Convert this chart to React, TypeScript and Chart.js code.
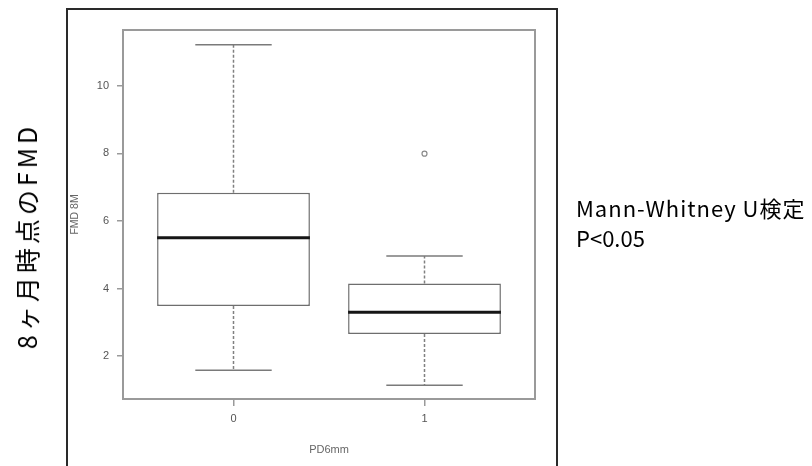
import React, { useEffect, useRef } from "react";
import { Chart, registerables } from "chart.js";

Chart.register(...registerables);

// ---- data ----
const groups = [0, 1];
const groupLabels = ["0", "1"];
const lowerWhisker = [1.58, 1.14];
const q1 = [3.48, 2.65];
const median = [5.5, 3.3];
const q3 = [6.83, 4.15];
const upperWhisker = [11.21, 4.96];
const outlierGroup = [1];
const outlierValue = [7.99];
const yTicks = [2, 4, 6, 8, 10];

const xTitle = "PD6mm";
const yTitle = "FMD 8M";
const sideTitle = "8ヶ月時点のFMD";
const noteLines = ["Mann-Whitney U検定", "P<0.05"];

const BOX_WEX = 0.8;
const STAPLE_WEX = 0.4;

const framePlugin = {
  id: "rframe",
  beforeDatasetsDraw(chart: any) {
    const { ctx, chartArea } = chart;
    ctx.save();
    ctx.strokeStyle = "#9a9a9a";
    ctx.lineWidth = 2;
    ctx.strokeRect(chartArea.left, chartArea.top, chartArea.right - chartArea.left, chartArea.bottom - chartArea.top);
    ctx.restore();
  },
};

export default function App() {
  const ref = useRef<HTMLCanvasElement | null>(null);

  useEffect(() => {
    if (!ref.current) return;
    const seg = (a: number[], b: number[]) => [
      { x: a[0], y: a[1] },
      { x: b[0], y: b[1] },
    ];
    const lineBase = {
      type: "line" as const,
      pointRadius: 0,
      fill: false,
      tension: 0,
      order: 0,
    };
    const datasets: any[] = [];
    groups.forEach((g, i) => {
      datasets.push({
        ...lineBase,
        label: "median" + g,
        data: seg([g - BOX_WEX / 2, median[i]], [g + BOX_WEX / 2, median[i]]),
        borderColor: "#161616",
        borderWidth: 3,
      });
      datasets.push({
        ...lineBase,
        label: "uw" + g,
        data: seg([g, q3[i]], [g, upperWhisker[i]]),
        borderColor: "#808080",
        borderWidth: 1.5,
        borderDash: [3, 2],
        order: 1,
      });
      datasets.push({
        ...lineBase,
        label: "lw" + g,
        data: seg([g, q1[i]], [g, lowerWhisker[i]]),
        borderColor: "#808080",
        borderWidth: 1.5,
        borderDash: [3, 2],
        order: 1,
      });
      datasets.push({
        ...lineBase,
        label: "us" + g,
        data: seg([g - STAPLE_WEX / 2, upperWhisker[i]], [g + STAPLE_WEX / 2, upperWhisker[i]]),
        borderColor: "#7a7a7a",
        borderWidth: 1.5,
      });
      datasets.push({
        ...lineBase,
        label: "ls" + g,
        data: seg([g - STAPLE_WEX / 2, lowerWhisker[i]], [g + STAPLE_WEX / 2, lowerWhisker[i]]),
        borderColor: "#7a7a7a",
        borderWidth: 1.5,
      });
    });
    datasets.push({
      type: "scatter",
      label: "outliers",
      data: outlierGroup.map((g, i) => ({ x: g, y: outlierValue[i] })),
      pointRadius: 2.5,
      pointBorderWidth: 1.2,
      borderColor: "#8a8a8a",
      backgroundColor: "#ffffff",
      pointBackgroundColor: "#ffffff",
      pointBorderColor: "#8a8a8a",
      order: 0,
    });
    datasets.push({
      type: "bar",
      label: "box",
      data: groups.map((g, i) => ({ x: g, y: [q1[i], q3[i]] })),
      backgroundColor: "#ffffff",
      borderColor: "#6e6e6e",
      borderWidth: 1.5,
      borderSkipped: false,
      barPercentage: BOX_WEX,
      categoryPercentage: 1,
      order: 5,
    });

    const tickFont = { family: "'Liberation Sans', Arial, sans-serif", size: 11 };

    const chart = new Chart(ref.current, {
      type: "bar",
      data: { datasets },
      plugins: [framePlugin],
      options: {
        animation: false,
        responsive: false,
        devicePixelRatio: 1,
        layout: { padding: { left: 0, top: 30, right: 277, bottom: 0 } },
        plugins: { legend: { display: false }, tooltip: { enabled: false }, title: { display: false } },
        scales: {
          x: {
            type: "linear",
            min: -0.5785,
            max: 1.5785,
            offset: false,
            border: { display: false },
            grid: { display: true, offset: false, drawOnChartArea: false, drawTicks: true, tickLength: 7, color: "#9a9a9a", lineWidth: 1.5 },
            afterBuildTicks: (s: any) => {
              s.ticks = groups.map((v) => ({ value: v }));
            },
            afterFit: (s: any) => {
              s.height = 67;
            },
            ticks: {
              padding: 6,
              color: "#555",
              font: tickFont,
              maxRotation: 0,
              callback: (v: any) => {
                const idx = groups.indexOf(Number(v));
                return idx >= 0 ? groupLabels[idx] : "";
              },
            },
            title: { display: true, text: xTitle, color: "#666", font: tickFont, padding: { top: 0, bottom: 9 } },
          },
          y: {
            type: "linear",
            min: 0.73,
            max: 11.65,
            border: { display: false },
            grid: { display: true, drawOnChartArea: false, drawTicks: true, tickLength: 6, color: "#9a9a9a", lineWidth: 1.5 },
            afterBuildTicks: (s: any) => {
              s.ticks = yTicks.map((v) => ({ value: v }));
            },
            afterFit: (s: any) => {
              s.width = 123;
            },
            ticks: { padding: 8, color: "#555", font: tickFont },
            title: { display: true, text: yTitle, color: "#666", font: { ...tickFont, size: 10.5 }, padding: { top: 69, bottom: 0 } },
          },
        },
      },
    } as any);
    return () => chart.destroy();
  }, []);

  return (
    <div style={{ position: "absolute", left: 0, top: 0, width: 812, height: 466, overflow: "hidden", background: "#fff" }}>
      <div
        style={{
          position: "absolute",
          left: 66,
          top: 8,
          width: 492,
          height: 480,
          border: "2px solid #2a2a2a",
          boxSizing: "border-box",
        }}
      />
      <canvas ref={ref} width={812} height={466} style={{ position: "absolute", left: 0, top: 0, width: 812, height: 466 }} />
      <div
        style={{
          position: "absolute",
          left: 26,
          top: 236,
          transform: "translate(-50%, -50%) rotate(-90deg)",
          whiteSpace: "nowrap",
          fontFamily: "'Noto Sans CJK JP', sans-serif",
          fontSize: 25,
          letterSpacing: "4px",
          lineHeight: "30px",
          color: "#000",
        }}
      >
        {sideTitle}
      </div>
      <div
        style={{
          position: "absolute",
          left: 576,
          top: 192,
          whiteSpace: "nowrap",
          fontFamily: "'Noto Sans CJK JP', sans-serif",
          fontSize: 22,
          lineHeight: "30px",
          color: "#000",
        }}
      >
        {noteLines.map((t, i) => (
          <div key={i} style={{ letterSpacing: i === 0 ? "1px" : "0px" }}>
            {t}
          </div>
        ))}
      </div>
    </div>
  );
}
